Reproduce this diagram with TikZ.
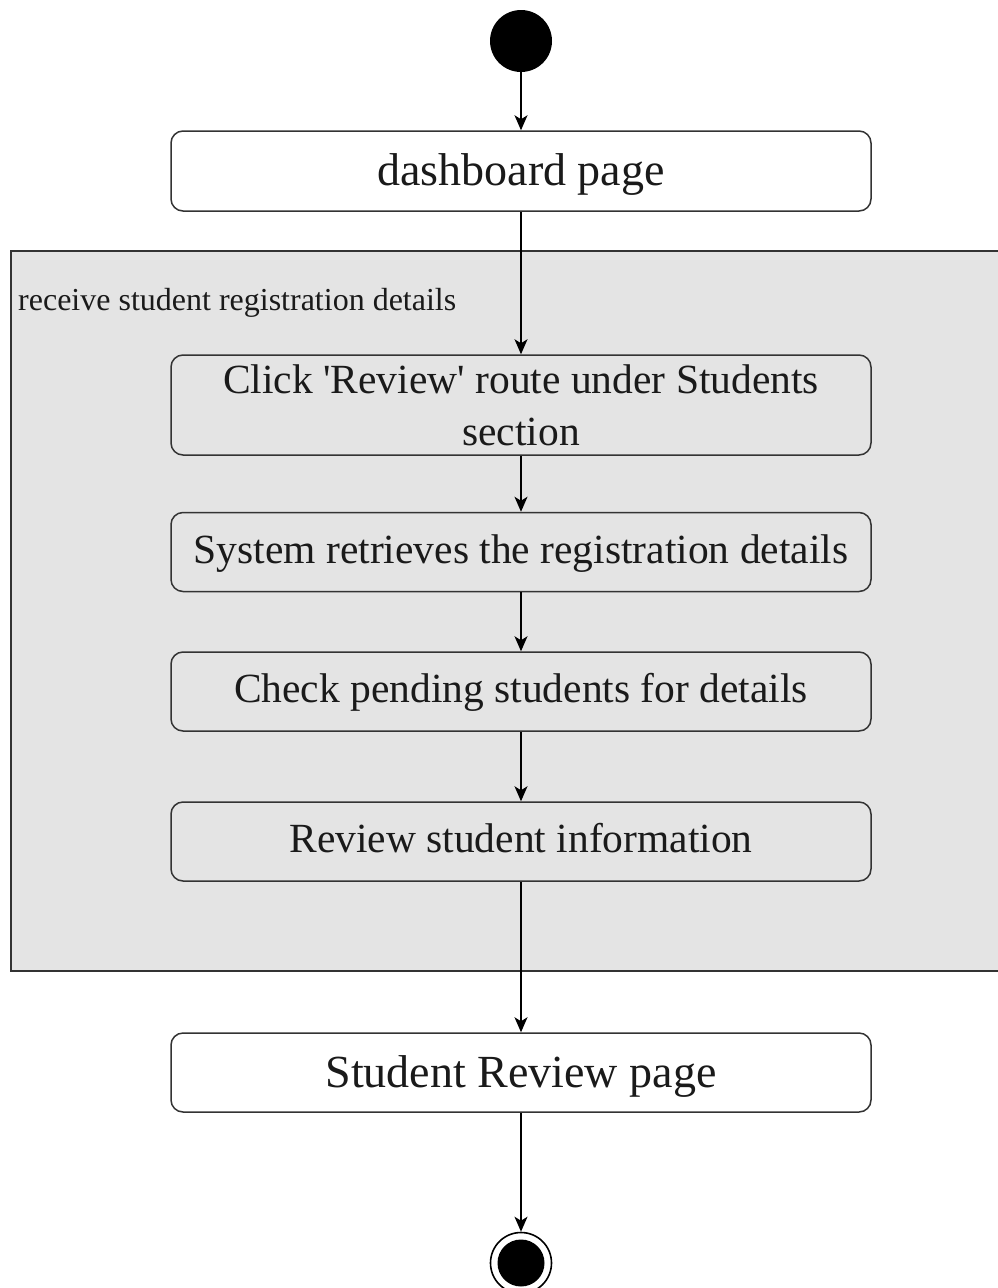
\documentclass[tikz,border=0pt]{standalone}
\usepackage{fontspec}
\setmainfont{Liberation Serif}[Ligatures=TeXOff]
\usetikzlibrary{arrows.meta}
\definecolor{regionfill}{HTML}{E4E4E4}
\definecolor{edge}{HTML}{333333}
\definecolor{ink}{HTML}{1A1A1A}
% set a one-line caption with its baseline a given distance below the node centre
\newcommand{\onbase}[2]{\raisebox{-#1}[0pt][0pt]{#2}}
\begin{document}
\begin{tikzpicture}[x=1pt,y=-1pt,
  action/.style={draw=edge, line width=1.5pt, rounded corners=12pt,
    minimum width=700pt, inner sep=0pt, text=ink,
    font=\fontsize{41.5}{52}\selectfont, align=center},
  whitebox/.style={action, fill=white, minimum height=80pt, font=\fontsize{46}{52}\selectfont},
  graybox/.style={action, fill=regionfill, minimum height=79pt},
  flow/.style={draw=black, line width=1.5pt, -{Stealth[length=15pt,width=13pt,inset=4pt]}},
  startdot/.style={circle, fill=black, minimum size=62pt, inner sep=0pt},
  endring/.style={circle, draw=black, line width=1.6pt, fill=white, minimum size=61pt, inner sep=0pt},
  enddot/.style={circle, fill=black, minimum size=47pt, inner sep=0pt}]
  \clip (0,0) rectangle (998,1288);
  \fill[white] (0,0) rectangle (998,1288);

  % activity region
  \draw[draw=edge, line width=2pt, fill=regionfill] (11,251) rectangle (1010,971);
  \node[anchor=west, text=ink, font=\fontsize{32}{36}\selectfont, inner sep=0pt] (reglabel) at (18,303) {receive student registration details};

  % initial node
  \node[startdot] (start) at (521,41) {};

  % actions
  \node[whitebox] (dash) at (521,171) {\onbase{14pt}{dashboard page}};
  \node[graybox, minimum height=100pt] (click) at (521,405) {Click 'Review' route under Students\\section};
  \node[graybox] (sys) at (521,552) {\onbase{11pt}{System retrieves the registration details}};
  \node[graybox] (check) at (521,691.5) {\onbase{11pt}{Check pending students for details}};
  \node[graybox] (review) at (521,841.5) {\onbase{11pt}{Review student information}};
  \node[whitebox, minimum height=79pt] (page) at (521,1072.5) {\onbase{14.5pt}{Student Review page}};

  % final node
  \node[endring] (final) at (521,1263) {};
  \node[enddot] (finaldot) at (521,1263) {};

  % control flow
  \draw[flow] (start) -- (dash);
  \draw[flow] (dash) -- (click);
  \draw[flow] (click) -- (sys);
  \draw[flow] (sys) -- (check);
  \draw[flow] (check) -- (review);
  \draw[flow] (review) -- (page);
  \draw[flow] (page) -- (final);
\end{tikzpicture}
\end{document}
